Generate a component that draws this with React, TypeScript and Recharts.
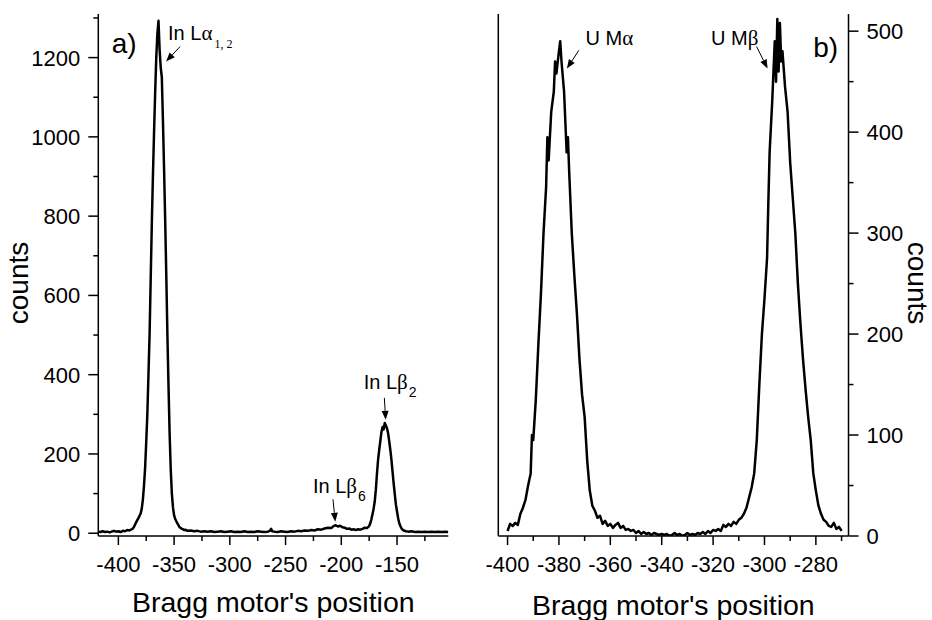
import React from 'react';
import { LineChart, Line, XAxis, YAxis, ReferenceDot, Label } from 'recharts';

const FONT = '"Liberation Sans", Arial, Helvetica, sans-serif';
const SERIF = '"Liberation Serif", "Times New Roman", serif';

// panel a) - In L lines
const inPositions = [
  -418, -416, -414, -412, -410, -408, -406, -404, -402, -400, -398, -396, -394, -392, -390, -388,
  -387, -386, -385, -384, -383, -382, -381, -380, -379, -378,
  -377, -376, -375, -374, -373, -372, -371, -370, -369, -368,
  -367, -366, -365, -364, -363, -362, -361, -360, -359, -358,
  -357, -356, -355, -354, -353, -352, -351, -350, -349, -348,
  -347, -346, -345, -344, -343, -342, -341, -340,
  -338, -335, -332, -329, -326, -323, -320, -317, -314, -311,
  -308, -305, -302, -299, -296, -293, -290, -287, -284, -281,
  -278, -275, -272, -269, -266, -264, -263, -262, -260, -257,
  -254, -251, -248, -245, -242, -239, -236, -233, -230, -227,
  -224, -221, -218, -215, -212, -209, -207, -205, -203, -201,
  -199, -197, -195, -193, -191, -189, -187, -185, -183, -181,
  -179, -177, -175,
  -174, -173, -172, -171, -170, -169, -168, -167, -166, -165,
  -164, -163, -162, -161, -160, -159, -158, -157, -156, -155,
  -154, -153, -152, -151, -150, -149, -148, -147, -146, -145, -144,
  -142, -140, -137, -134, -131, -128, -125, -122, -119, -116, -113, -110, -107, -104,
];
const inCounts = [
  4, 3, 5, 3, 4, 2, 4, 6, 4, 5, 3, 6, 5, 8, 7, 10,
  12, 16, 22, 28, 33, 38, 44, 50, 62, 85,
  120, 165, 230, 300, 400, 500, 640, 780, 900, 1010,
  1110, 1200, 1260, 1293, 1220, 1175, 1150, 1040, 920, 790,
  650, 500, 370, 250, 160, 100, 65, 45, 36, 30,
  25, 20, 15, 13, 11, 10, 8, 9,
  6, 7, 5, 6, 4, 5, 4, 5, 3, 4,
  5, 3, 4, 5, 3, 4, 3, 5, 3, 4,
  3, 5, 4, 3, 4, 6, 11, 5, 4, 3,
  5, 4, 3, 5, 4, 6, 5, 7, 6, 8,
  7, 10, 9, 12, 14, 13, 18, 20, 17, 19,
  15, 14, 11, 12, 9, 10, 8, 10, 9, 11,
  14, 13, 18,
  25, 35, 48, 62, 80, 110, 150, 185, 210, 232,
  255, 268, 262, 278, 272, 265, 252, 232, 210, 185,
  155, 125, 98, 72, 55, 38, 25, 18, 12, 9, 7,
  5, 4, 5, 3, 4, 3, 4, 3, 4, 3, 4, 3, 4, 3,
];

// panel b) - U M lines
const uPositions = [
  -400, -399, -398, -397, -396, -395, -394, -393, -392, -391,
  -390.5, -390, -389, -388, -387, -386, -385, -384.5, -384, -383,
  -382, -381.5, -381, -380, -379.5, -379, -378.5, -378, -377.5, -377,
  -376.5, -376, -375, -374, -373, -372, -371, -370, -369, -368,
  -367, -366, -365, -364, -363, -362, -361, -360, -359, -358,
  -357, -356, -355, -354, -353, -352, -351, -350,
  -349, -348, -347, -346, -345, -344, -343, -342, -341, -340,
  -339, -338, -337, -336, -335, -334, -333, -332, -331, -330,
  -329, -328, -327, -326, -325, -324, -323, -322, -321, -320,
  -319, -318, -317, -316, -315, -314, -313, -312, -311, -310,
  -309, -308, -307, -306, -305, -304, -303, -302, -301, -300,
  -299.5, -299, -298.5, -298, -297.5, -297, -296.5, -296, -295.5, -295,
  -294.5, -294, -293.5, -293, -292, -291, -290.5, -290, -289, -288,
  -287, -286, -285, -284, -283, -282, -281, -280, -279, -278,
  -277, -276, -275, -274, -273, -272, -271, -270,
];
const uCounts = [
  5, 12, 10, 13, 11, 22, 28, 36, 50, 62,
  100, 95, 135, 190, 240, 300, 345, 395, 372, 420,
  440, 470, 458, 480, 490, 470, 455, 440, 410, 380,
  395, 360, 300, 258, 220, 175, 140, 118, 75, 45,
  30, 25, 18, 20, 12, 15, 10, 12, 8, 11,
  13, 8, 10, 6, 7, 5, 6, 3,
  5, 2, 4, 2, 3, 1, 3, 2, 1, 2,
  1, 2, 0, 1, 3, 1, 2, 0, 1, 3,
  1, 2, 1, 3, 2, 4, 2, 5, 3, 6,
  5, 7, 5, 11, 9, 12, 10, 14, 12, 16,
  18, 22, 28, 38, 48, 62, 95, 150, 200, 235,
  255, 275, 330, 380, 405, 430, 460, 490, 450, 512,
  460, 508, 470, 480, 445, 420, 395, 370, 335, 300,
  250, 210, 175, 145, 118, 95, 62, 45, 30, 22,
  16, 14, 10, 9, 13, 7, 9, 5,
];

// axis ticks
const inXTicks = [-400, -375, -350, -325, -300, -275, -250, -225, -200, -175, -150, -125];
const inXLabels = [-400, -350, -300, -250, -200, -150];
const inYTicks = [0, 100, 200, 300, 400, 500, 600, 700, 800, 900, 1000, 1100, 1200, 1300];
const inYLabels = [0, 200, 400, 600, 800, 1000, 1200];
const uXTicks = [-400, -390, -380, -370, -360, -350, -340, -330, -320, -310, -300, -290, -280, -270];
const uXLabels = [-400, -380, -360, -340, -320, -300, -280];
const uYTicks = [0, 50, 100, 150, 200, 250, 300, 350, 400, 450, 500];
const uYLabels = [0, 100, 200, 300, 400, 500];

const inData = inPositions.map((x, i) => ({ x, y: inCounts[i] }));
const uData = uPositions.map((x, i) => ({ x, y: uCounts[i] }));

const inNotes = [
  { x: -357.2, y: 1190, tail: [14, -15], at: [2, -21.7], main: 'In L', greek: 'α', sub: '1, 2', subSerif: true },
  { x: -160.2, y: 286, tail: [-1.3, -22], at: [-22, -31], main: 'In L', greek: 'β', sub: '2' },
  { x: -205.4, y: 29, tail: [-2.3, -22.4], at: [-22.3, -28.7], main: 'In L', greek: 'β', sub: '6' },
];
const uNotes = [
  { x: -376.9, y: 463, tail: [12, -18.3], at: [18.7, -23.3], main: 'U M', greek: 'α' },
  { x: -298.8, y: 463, tail: [-11, -22], at: [-56.6, -23.3], main: 'U M', greek: 'β' },
];

const TICK_FONT = 22;

const BottomTick = (props: any) => {
  const { x, y, payload, majors } = props;
  const major = majors.includes(payload.value);
  return (
    <g>
      <line x1={x} x2={x} y1={y} y2={y + (major ? 9 : 5)} stroke="#000" strokeWidth={1.5} />
      {major && (
        <text x={x} y={y + 36} textAnchor="middle" fontSize={TICK_FONT} fontFamily={FONT} fill="#000">
          {payload.value}
        </text>
      )}
    </g>
  );
};

const SideTick = (props: any) => {
  const { x, y, payload, majors, side } = props;
  const major = majors.includes(payload.value);
  const s = side === 'left' ? -1 : 1;
  return (
    <g>
      <line x1={x} x2={x + s * (major ? 10 : 5)} y1={y} y2={y} stroke="#000" strokeWidth={1.5} />
      {major && (
        <text
          x={x + s * 18}
          y={y}
          dy="0.36em"
          textAnchor={side === 'left' ? 'end' : 'start'}
          fontSize={TICK_FONT}
          fontFamily={FONT}
          fill="#000"
        >
          {payload.value}
        </text>
      )}
    </g>
  );
};

const XTitle = (props: any) => {
  const { viewBox, titleText, shiftY } = props;
  return (
    <text x={viewBox.x + viewBox.width / 2} y={viewBox.y + shiftY} textAnchor="middle" fontSize={28.5} fontFamily={FONT} fill="#000">
      {titleText}
    </text>
  );
};

const YTitle = (props: any) => {
  const { viewBox, shiftX, turn } = props;
  const cx = viewBox.x + shiftX;
  const cy = viewBox.y + viewBox.height / 2 + 8;
  return (
    <g transform={`translate(${cx} ${cy}) rotate(${turn})`}>
      <text x={0} y={0} textAnchor="middle" dominantBaseline="central" fontSize={28} fontFamily={FONT} fill="#000">
        counts
      </text>
    </g>
  );
};

const Note = (props: any) => {
  const { cx, cy, note } = props;
  const tx = cx + note.tail[0];
  const ty = cy + note.tail[1];
  const len = Math.hypot(cx - tx, cy - ty);
  const ux = (cx - tx) / len;
  const uy = (cy - ty) / len;
  const bx = cx - ux * 9;
  const by = cy - uy * 9;
  const px = -uy * 3.5;
  const py = ux * 3.5;
  return (
    <g>
      <line x1={tx} y1={ty} x2={bx} y2={by} stroke="#000" strokeWidth={1} />
      <polygon points={`${cx},${cy} ${bx + px},${by + py} ${bx - px},${by - py}`} fill="#000" />
      <text x={cx + note.at[0]} y={cy + note.at[1]} fontSize={20} fontFamily={FONT} fill="#000">
        {note.main}
        <tspan fontFamily={SERIF} fontSize={21}>{note.greek}</tspan>
        {note.sub && (
          <tspan
            dx={note.subSerif ? 2 : 1}
            dy={8}
            fontSize={note.subSerif ? 12 : 14}
            fontFamily={note.subSerif ? SERIF : FONT}
          >
            {note.sub}
          </tspan>
        )}
      </text>
    </g>
  );
};

const Tag = (props: any) => {
  const { cx, cy, text } = props;
  return (
    <text x={cx} y={cy} fontSize={28} fontFamily={FONT} fill="#000">
      {text}
    </text>
  );
};

const frame = { stroke: '#000', strokeWidth: 1.5 };

export default function App() {
  return (
    <div style={{ position: 'absolute', left: 0, top: 0, width: 932, height: 620, background: '#fff', overflow: 'hidden' }}>
      <div style={{ position: 'absolute', left: 0, top: 0 }}>
        <LineChart width={470} height={620} data={inData} margin={{ top: 14, right: 21.7, bottom: 0, left: 0 }}>
          <XAxis
            xAxisId="b"
            dataKey="x"
            type="number"
            domain={[-418, -104]}
            allowDataOverflow
            ticks={inXTicks}
            interval={0}
            height={84}
            tickSize={0}
            tickMargin={0}
            tickLine={false}
            axisLine={frame}
            tick={(p: any) => <BottomTick {...p} majors={inXLabels} />}
          >
            <Label content={<XTitle titleText="Bragg motor's position" shiftY={76} />} />
          </XAxis>
          <XAxis xAxisId="t" orientation="top" type="number" domain={[-418, -104]} height={0} tick={false} tickLine={false} axisLine={frame} />
          <YAxis
            yAxisId="l"
            type="number"
            domain={[-7, 1310]}
            allowDataOverflow
            ticks={inYTicks}
            interval={0}
            width={98.3}
            tickSize={0}
            tickMargin={0}
            tickLine={false}
            axisLine={frame}
            tick={(p: any) => <SideTick {...p} majors={inYLabels} side="left" />}
          >
            <Label content={<YTitle shiftX={18} turn={-90} />} />
          </YAxis>
          <YAxis yAxisId="r" orientation="right" type="number" domain={[-7, 1310]} width={0} tick={false} tickLine={false} axisLine={frame} />
          <Line
            xAxisId="b"
            yAxisId="l"
            type="linear"
            dataKey="y"
            stroke="#000"
            strokeWidth={2.5}
            strokeLinejoin="round"
            dot={false}
            isAnimationActive={false}
          />
          {inNotes.map((n, i) => (
            <ReferenceDot key={i} xAxisId="b" yAxisId="l" x={n.x} y={n.y} r={0} shape={(p: any) => <Note {...p} note={n} />} />
          ))}
          <ReferenceDot xAxisId="b" yAxisId="l" x={-405.9} y={1211} r={0} shape={(p: any) => <Tag {...p} text="a)" />} />
        </LineChart>
      </div>
      <div style={{ position: 'absolute', left: 470, top: 0 }}>
        <LineChart width={462} height={620} data={uData} margin={{ top: 14, right: 0, bottom: 0, left: 0 }}>
          <XAxis
            xAxisId="b"
            dataKey="x"
            type="number"
            domain={[-403.6, -267.3]}
            allowDataOverflow
            ticks={uXTicks}
            interval={0}
            height={84}
            tickSize={0}
            tickMargin={0}
            tickLine={false}
            axisLine={frame}
            tick={(p: any) => <BottomTick {...p} majors={uXLabels} />}
          >
            <Label content={<XTitle titleText="Bragg motor's position" shiftY={79} />} />
          </XAxis>
          <XAxis xAxisId="t" orientation="top" type="number" domain={[-403.6, -267.3]} height={0} tick={false} tickLine={false} axisLine={frame} />
          <YAxis yAxisId="l" type="number" domain={[0, 517]} width={28.3} tick={false} tickLine={false} axisLine={frame} />
          <YAxis
            yAxisId="r"
            orientation="right"
            type="number"
            domain={[0, 517]}
            allowDataOverflow
            ticks={uYTicks}
            interval={0}
            width={83.5}
            tickSize={0}
            tickMargin={0}
            tickLine={false}
            axisLine={frame}
            tick={(p: any) => <SideTick {...p} majors={uYLabels} side="right" />}
          >
            <Label content={<YTitle shiftX={68.5} turn={90} />} />
          </YAxis>
          <Line
            xAxisId="b"
            yAxisId="r"
            type="linear"
            dataKey="y"
            stroke="#000"
            strokeWidth={2.5}
            strokeLinejoin="round"
            dot={false}
            isAnimationActive={false}
          />
          {uNotes.map((n, i) => (
            <ReferenceDot key={i} xAxisId="b" yAxisId="r" x={n.x} y={n.y} r={0} shape={(p: any) => <Note {...p} note={n} />} />
          ))}
          <ReferenceDot xAxisId="b" yAxisId="r" x={-281} y={474.6} r={0} shape={(p: any) => <Tag {...p} text="b)" />} />
        </LineChart>
      </div>
    </div>
  );
}
